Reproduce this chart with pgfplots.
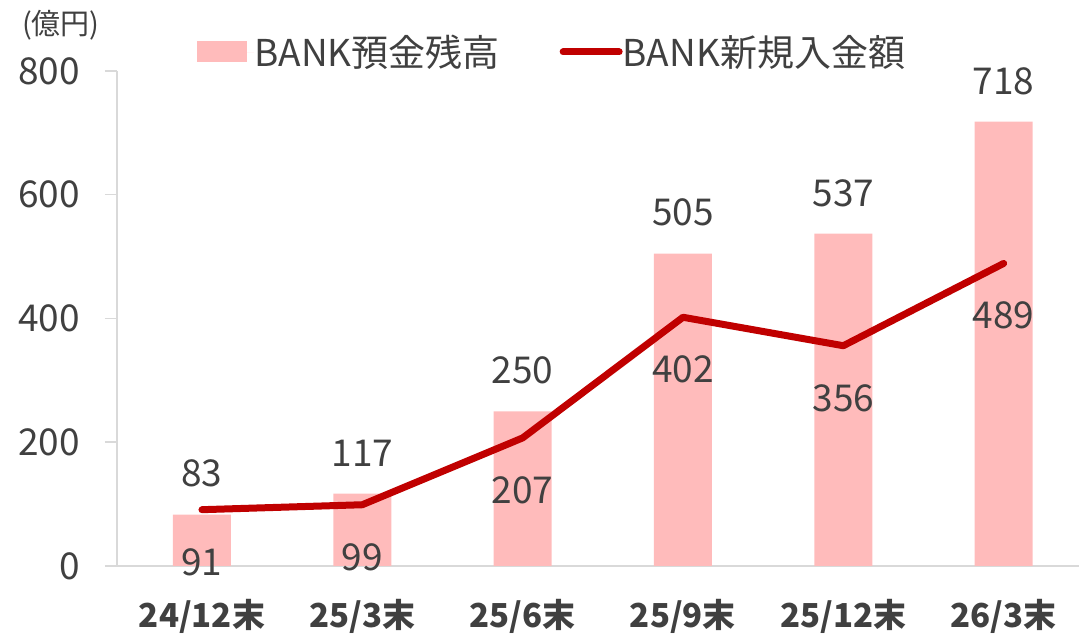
\documentclass[border=0pt]{standalone}
\usepackage{pgfplots}
\pgfplotsset{compat=1.18}
\usepackage{fontspec}
\setmainfont{Noto Sans CJK JP}
\definecolor{barpink}{HTML}{FFBBBB}
\definecolor{linered}{HTML}{C00000}
\definecolor{txt}{HTML}{404040}
\definecolor{axgray}{HTML}{D9D9D9}
\begin{document}
\begin{tikzpicture}
\path[use as bounding box] (-117pt,-68pt) rectangle (962pt,566pt);
\begin{axis}[
  at={(0,0)}, anchor=south west,
  scale only axis, width=962pt, height=495pt,
  xmin=-0.53, xmax=5.47, ymin=0, ymax=800,
  axis lines=left, axis line style={axgray, line width=1.5pt, -},
  xtick={0,1,2,3,4,5},
  xticklabels={24/12末,25/3末,25/6末,25/9末,25/12末,26/3末},
  xtick style={draw=none},
  ytick={0,200,400,600,800},
  ytick style={axgray, line width=1.5pt},
  tick align=outside, major tick length=12pt,
  tick label style={text=txt},
  yticklabel style={font=\fontsize{37}{40}\selectfont, inner sep=0pt, xshift=-25pt},
  xticklabel style={font=\fontsize{33}{36}\selectfont\bfseries, inner sep=0pt, yshift=-21pt},
  /pgf/number format/assume math mode=true,
  clip=false,
  legend columns=2,
  legend style={at={(0,1)}, anchor=west, xshift=80pt, yshift=19pt, draw=none, fill=none,
    inner sep=0pt, font=\fontsize{37}{40}\selectfont, text=txt, nodes={inner sep=0pt},
    /tikz/every even column/.append style={column sep=60pt}},
]
\addplot[ybar, bar width=58pt, fill=barpink, draw=none,
  nodes near coords,
  nodes near coords style={font=\fontsize{37}{40}\selectfont, text=txt, anchor=south, inner sep=0pt, yshift=27pt},
  legend image code/.code={\path (0pt,0pt) rectangle (57pt,0pt); \fill[barpink] (0pt,-10.5pt) rectangle (50pt,10.5pt);}]
  coordinates {(0,83) (1,117) (2,250) (3,505) (4,537) (5,718)};
\addlegendentry{BANK預金残高}
\addplot[linered, line width=7pt, line cap=round, line join=round, mark=none,
  nodes near coords,
  nodes near coords style={font=\fontsize{37}{40}\selectfont, text=txt, anchor=north, inner sep=0pt, yshift=-35pt},
  legend image code/.code={\path (0pt,0pt) rectangle (56pt,0pt); \draw[linered, line width=7pt, line cap=round] (3.5pt,0pt) -- (52.5pt,0pt);}]
  coordinates {(0,91) (1,99) (2,207) (3,402) (4,356) (5,489)};
\addlegendentry{BANK新規入金額}
\node[font=\fontsize{29}{32}\selectfont, text=txt, xshift=-56pt, yshift=46pt] at (rel axis cs:0,1) {(億円)};
\end{axis}
\end{tikzpicture}
\end{document}
